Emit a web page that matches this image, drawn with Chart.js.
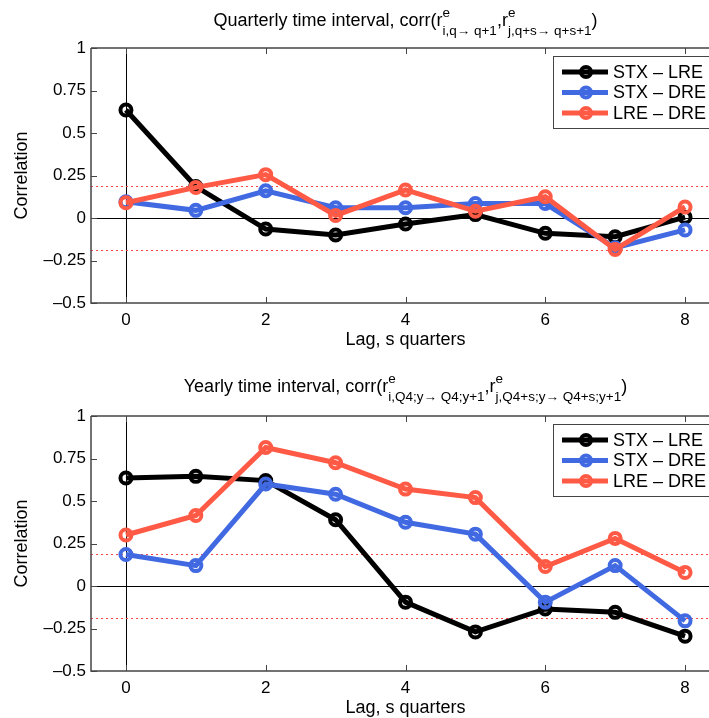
<!DOCTYPE html>
<html>
<head>
<meta charset="utf-8">
<script src="https://cdn.jsdelivr.net/npm/chart.js@4.4.1/dist/chart.umd.min.js"></script>
<style>
  html, body { margin: 0; padding: 0; background: #fff; }
  body { width: 709px; height: 718px; overflow: hidden; position: relative; font-family: 'Liberation Sans', Arial, sans-serif; }
  .panel { position: absolute; left: 0; width: 740px; height: 360px; }
  .panel canvas { position: absolute; left: 0; top: 0; }
  .ptitle { position: absolute; left: 91px; width: 629px; text-align: center; font-size: 18px; line-height: 26px; color: #000; white-space: nowrap; }
  .ss { display: inline-block; vertical-align: middle; text-align: left; font-size: 13.5px; line-height: 18px; position: relative; top: 1px; }
  .ss span { display: block; }
</style>
</head>
<body>

<div class="panel" style="top:0">
  <canvas id="chartQ" width="740" height="360"></canvas>
  <div class="ptitle" style="top:3px">Quarterly time interval, corr(r<span class="ss"><span>e</span><span>i,q→ q+1</span></span>,r<span class="ss"><span>e</span><span>j,q+s→ q+s+1</span></span>)</div>
</div>

<div class="panel" style="top:368px">
  <canvas id="chartY" width="740" height="360"></canvas>
  <div class="ptitle" style="top:1px">Yearly time interval, corr(r<span class="ss"><span>e</span><span>i,Q4;y→ Q4;y+1</span></span>,r<span class="ss"><span>e</span><span>j,Q4+s;y→ Q4+s;y+1</span></span>)</div>
</div>

<script>
// ===== DATA =====
const lags = [0, 1, 2, 3, 4, 5, 6, 7, 8];
const xTicks = [0, 2, 4, 6, 8];
const yTicks = [-0.5, -0.25, 0, 0.25, 0.5, 0.75, 1];
const seriesNames = ['STX – LRE', 'STX – DRE', 'LRE – DRE'];
const seriesColors = ['#000000', '#4169e1', '#ff5a45'];
const sigLevel = 0.19;

// quarterly interval
const quarterlyStxLre = [0.635, 0.185, -0.065, -0.10, -0.035, 0.02, -0.09, -0.11, 0.005];
const quarterlyStxDre = [0.095, 0.045, 0.16, 0.06, 0.06, 0.085, 0.085, -0.175, -0.07];
const quarterlyLreDre = [0.09, 0.18, 0.255, 0.015, 0.165, 0.04, 0.125, -0.185, 0.065];

// yearly interval
const yearlyStxLre = [0.635, 0.645, 0.62, 0.39, -0.095, -0.27, -0.135, -0.155, -0.295];
const yearlyStxDre = [0.185, 0.12, 0.60, 0.54, 0.375, 0.305, -0.095, 0.12, -0.205];
const yearlyLreDre = [0.30, 0.415, 0.815, 0.725, 0.57, 0.52, 0.115, 0.28, 0.08];

const FONT = "'Liberation Sans', Arial, sans-serif";

function fmtTick(v) {
  return v < 0 ? '–' + String(-v) : String(v);
}

// zero lines, dotted bands, axes box with inward ticks, legend
const panelDecor = {
  id: 'panelDecor',
  beforeDatasetsDraw(chart) {
    const { ctx, chartArea: a, scales: { x, y } } = chart;
    ctx.save();
    ctx.strokeStyle = '#000';
    ctx.lineWidth = 1;
    const x0 = Math.round(x.getPixelForValue(0)) + 0.5;
    const y0 = Math.round(y.getPixelForValue(0)) + 0.5;
    ctx.beginPath();
    ctx.moveTo(x0, a.top); ctx.lineTo(x0, a.bottom);
    ctx.moveTo(a.left, y0); ctx.lineTo(a.right, y0);
    ctx.stroke();

    ctx.strokeStyle = 'rgb(255,70,70)';
    ctx.lineWidth = 1;
    ctx.setLineDash([2, 3]);
    [sigLevel, -sigLevel].forEach(v => {
      const py = Math.round(y.getPixelForValue(v)) + 0.5;
      ctx.beginPath(); ctx.moveTo(a.left, py); ctx.lineTo(a.right, py); ctx.stroke();
    });
    ctx.restore();
  },
  afterDraw(chart) {
    const { ctx, chartArea: a, scales: { x, y } } = chart;
    ctx.save();
    ctx.strokeStyle = '#444';
    ctx.lineWidth = 1.5;
    ctx.beginPath();
    ctx.moveTo(a.left, a.top); ctx.lineTo(a.right, a.top);
    ctx.moveTo(a.left, a.top); ctx.lineTo(a.left, a.bottom);
    ctx.lineTo(a.right, a.bottom);
    ctx.stroke();
    ctx.lineWidth = 1;
    ctx.beginPath();
    xTicks.forEach(v => {
      const px = Math.round(x.getPixelForValue(v)) + 0.5;
      ctx.moveTo(px, a.bottom); ctx.lineTo(px, a.bottom - 6);
      ctx.moveTo(px, a.top); ctx.lineTo(px, a.top + 6);
    });
    yTicks.forEach(v => {
      const py = Math.round(y.getPixelForValue(v)) + 0.5;
      ctx.moveTo(a.left, py); ctx.lineTo(a.left + 6, py);
    });
    ctx.stroke();

    // legend box in upper right
    const bx = 553, by = 56, bw = 170, bh = 72;
    ctx.fillStyle = '#fff';
    ctx.fillRect(bx, by, bw, bh);
    ctx.strokeStyle = '#444';
    ctx.lineWidth = 1;
    ctx.strokeRect(bx + 0.5, by + 0.5, bw, bh);
    ctx.font = '18px ' + FONT;
    ctx.textBaseline = 'middle';
    ctx.textAlign = 'left';
    chart.data.datasets.forEach((ds, i) => {
      const ry = by + 16 + i * 20.5;
      ctx.strokeStyle = ds.borderColor;
      ctx.lineWidth = 5;
      ctx.beginPath(); ctx.moveTo(bx + 9, ry); ctx.lineTo(bx + 55, ry); ctx.stroke();
      ctx.lineWidth = 4;
      ctx.beginPath(); ctx.arc(bx + 33, ry, 5, 0, Math.PI * 2); ctx.stroke();
      ctx.fillStyle = '#000';
      ctx.fillText(ds.label, bx + 60, ry + 1);
    });
    ctx.restore();
  }
};

function makeDataset(label, values, color, order) {
  return {
    label: label,
    data: lags.map((l, i) => ({ x: l, y: values[i] })),
    borderColor: color,
    backgroundColor: color,
    borderWidth: 5,
    pointRadius: 5.5,
    pointBorderWidth: 4,
    pointBackgroundColor: 'rgba(255,255,255,0)',
    pointBorderColor: color,
    tension: 0,
    order: order
  };
}

function makeChart(id, series) {
  const ctx = document.getElementById(id).getContext('2d');
  return new Chart(ctx, {
    type: 'line',
    data: {
      datasets: series.map((vals, i) => makeDataset(seriesNames[i], vals, seriesColors[i], 2 - i))
    },
    options: {
      responsive: false,
      animation: false,
      devicePixelRatio: 1,
      layout: { padding: { left: 0, right: 20, top: 48, bottom: 0 } },
      plugins: { legend: { display: false }, tooltip: { enabled: false } },
      scales: {
        x: {
          type: 'linear', min: -0.5, max: 8.5,
          afterBuildTicks: s => { s.ticks = xTicks.map(v => ({ value: v })); },
          afterFit: s => { s.height = 57; },
          grid: { display: false, drawTicks: false },
          border: { display: false },
          ticks: { color: '#000', font: { family: FONT, size: 17 }, padding: 7, maxRotation: 0 },
          title: { display: true, text: 'Lag, s quarters', color: '#000', font: { family: FONT, size: 18 }, padding: { top: 0, bottom: 9 } }
        },
        y: {
          type: 'linear', min: -0.5, max: 1,
          afterBuildTicks: s => { s.ticks = yTicks.map(v => ({ value: v })); },
          afterFit: s => { s.width = 91; },
          grid: { display: false, drawTicks: false },
          border: { display: false },
          ticks: { color: '#000', font: { family: FONT, size: 17 }, padding: 5, callback: v => fmtTick(v) },
          title: { display: true, text: 'Correlation', color: '#000', font: { family: FONT, size: 18 }, padding: { top: 11, bottom: 0 } }
        }
      }
    },
    plugins: [panelDecor]
  });
}

makeChart('chartQ', [quarterlyStxLre, quarterlyStxDre, quarterlyLreDre]);
makeChart('chartY', [yearlyStxLre, yearlyStxDre, yearlyLreDre]);
</script>
</body>
</html>
